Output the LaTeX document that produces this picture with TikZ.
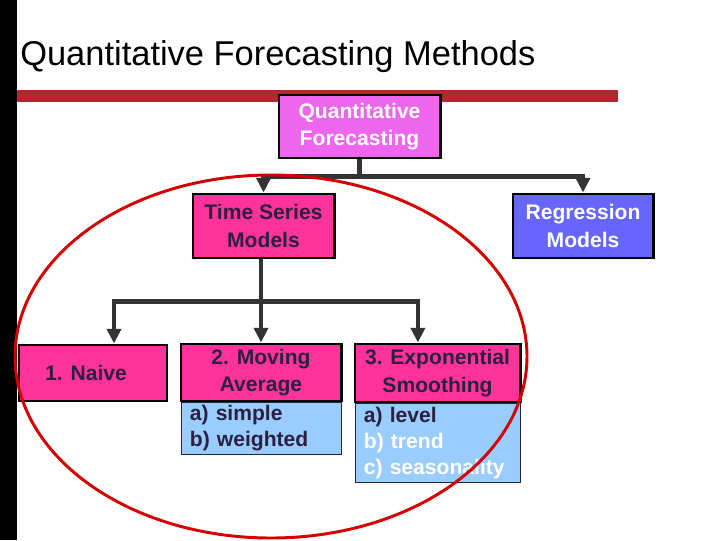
\documentclass[tikz,border=0pt]{standalone}
\usepackage{fontspec}
\setmainfont{Liberation Sans}
\usetikzlibrary{arrows.meta}

\definecolor{barred}{HTML}{B3272D}
\definecolor{violetbox}{HTML}{EE66EE}
\definecolor{pinkbox}{HTML}{FF3399}
\definecolor{bluebox}{HTML}{6666FF}
\definecolor{listblue}{HTML}{99CCFF}
\definecolor{darktext}{HTML}{2D1F3F}
\definecolor{ringred}{HTML}{D40000}
\definecolor{linkgray}{HTML}{333333}

\begin{document}
\begin{tikzpicture}[x=0.025cm,y=-0.025cm]

\tikzset{%
  box/.style      = {draw=black,line width=2.1pt,inner sep=0pt,align=center,
                     font=\fontsize{15}{19.5}\selectfont\bfseries},
  topbox/.style   = {box,fill=violetbox,text=white},
  pinkbox/.style  = {box,fill=pinkbox,text=darktext},
  bluebox/.style  = {box,fill=bluebox,text=white},
  listbox/.style  = {draw=darktext,line width=0.6pt,fill=listblue,text=darktext,
                     inner xsep=0.225cm,inner ysep=0pt,align=left,anchor=north,
                     font=\fontsize{15}{18.5}\selectfont\bfseries},
  link/.style     = {linkgray,line width=3.2pt,-{Triangle[width=10pt,length=10.5pt]}},
  ring/.style     = {ringred,line width=2.1pt},
}

\useasboundingbox (0,0) rectangle (720,540);
\fill[black]  (0,0) rectangle (17,540);
\fill[barred] (17,90) rectangle (618,102);

% Title
\node[anchor=base west,inner sep=0pt,font=\fontsize{24.5}{29}\selectfont] (title) at (20,65)
  {Quantitative Forecasting Methods};

% Boxes
\node[topbox,minimum width=4.025cm,minimum height=1.575cm] (quant)  at (359.5,126.5) {Quantitative\\Forecasting};
\node[pinkbox,minimum width=3.525cm,minimum height=1.6cm]  (series) at (263.5,226)   {Time Series\\Models};
\node[bluebox,minimum width=3.5cm,minimum height=1.6cm]    (regr)   at (583,226)     {Regression\\Models};
\node[pinkbox,minimum width=3.7cm,minimum height=1.4cm]    (naive)  at (93,373)      {1. Naive\hspace*{0.35cm}};
\node[pinkbox,minimum width=4cm,minimum height=1.425cm]    (moving) at (261,372.5)   {2. Moving\\Average};
\node[pinkbox,minimum width=4.125cm,minimum height=1.45cm] (expo)   at (437.5,373)   {3. Exponential\\Smoothing};

% Lists below the boxes
\node[listbox,text width=3.55cm,minimum height=1.275cm] (movinglist) at (moving.south)
  {a) simple\\b) weighted};
\node[listbox,text width=3.675cm,minimum height=1.95cm] (expolist) at (expo.south)
  {a) level\\\textcolor{white}{b) trend}\\\textcolor{white}{c) seasonality}};

% Connectors
\coordinate (fork) at (moving.north |- series.south);
\draw[link] (quant.south) -- ++(0,17) -| (series.north);
\draw[link] (quant.south) -- ++(0,17) -| (regr.north);
\draw[link] (fork) -- ++(0,42) -| ([xshift=0.525cm]naive.north);
\draw[link] (fork) -- (moving.north);
\draw[link] (fork) -- ++(0,42) -| ([xshift=-0.49cm]expo.north);

% Ring round the time series models
\draw[ring] (271,356.5) ellipse (256 and 181.5);

\end{tikzpicture}
\end{document}
